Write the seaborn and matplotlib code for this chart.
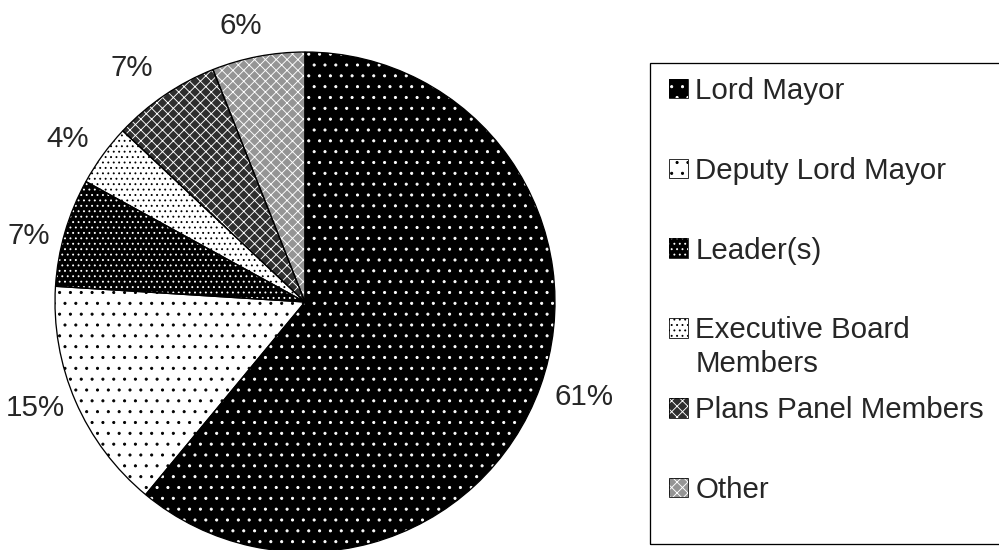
import matplotlib
matplotlib.use("Agg")
import matplotlib.pyplot as plt
import matplotlib.patches as mpatches
import numpy as np
import seaborn as sns

# estilo base
sns.set_style("white")
plt.rcParams['font.family'] = ['Liberation Sans', 'DejaVu Sans']

# dpi maior => hachura mais fina (a celula da hachura tem 1 polegada)
DPI = 130
PT = 72 / DPI  # pontos por pixel
plt.rcParams['hatch.linewidth'] = 0.9 * PT

# dados
categorias = ["Lord Mayor", "Deputy Lord Mayor", "Leader(s)",
              "Executive Board\nMembers", "Plans Panel Members", "Other"]
valores = [61, 15, 7, 4, 7, 6]
rotulos = ["61%", "15%", "7%", "4%", "7%", "6%"]

# cores e hachuras (preto e branco como no original)
cores = ["black", "white", "black", "white", "#2e2e2e", "#959595"]
cor_hachura = ["white", "black", "white", "black", "white", "white"]
hachuras = ["..", "..", "....", "....", "xxxx", "xxxx"]

# ajuste fino da posicao dos rotulos (raio relativo, desvio em graus)
raio_rotulo = [1.18, 1.16, 1.135, 1.15, 1.165, 1.135]
desvio_rotulo = [1.0, -2.0, 2.8, 1.5, 2.2, 2.2]

FONTE = 29.5 * PT

fig = plt.figure(figsize=(999 / DPI, 550 / DPI), dpi=DPI)
W = 999
H = 550
ax = fig.add_axes([55 / W, 1 - 552 / H, 500 / W, 500 / H])

# fatias com hachura
fatias, _ = ax.pie(valores, startangle=90, counterclock=False, colors=cores,
                   wedgeprops=dict(linewidth=0))
for f, h, c in zip(fatias, hachuras, cor_hachura):
    f.set_hatch(h)
    f.set_edgecolor(c)

# contorno preto e rotulos
contorno, textos = ax.pie(valores, startangle=90, counterclock=False,
                          labels=rotulos, labeldistance=1.155,
                          wedgeprops=dict(fill=False, edgecolor="black", linewidth=1.3 * PT),
                          textprops=dict(fontsize=FONTE))
for t, w, r, d in zip(textos, contorno, raio_rotulo, desvio_rotulo):
    ang = np.deg2rad((w.theta1 + w.theta2) / 2 + d)
    t.set_position((r * np.cos(ang), r * np.sin(ang)))
    t.set_horizontalalignment("center")
    t.set_verticalalignment("center")
ax.set_xlim(-1, 1)
ax.set_ylim(-1, 1)

# legenda (moldura desenhada a parte, sai pela direita como no original)
moldura = mpatches.Rectangle((650 / W, 1 - 544 / H), 400 / W, 481 / H,
                             transform=fig.transFigure, fill=False, edgecolor="black",
                             linewidth=1.3 * PT, clip_on=False)
fig.patches.append(moldura)

# no original o texto longo quebra linha sem mudar o espacamento
linhas = [c.split("\n") for c in categorias]
handles = [(f, mpatches.Patch(fill=False, edgecolor="black", linewidth=0.8 * PT)) for f in fatias]
leg = fig.legend(handles, [l[0] for l in linhas], loc="upper left",
                 bbox_to_anchor=(669 / W, 1 - 77 / H),
                 fontsize=FONTE, labelspacing=1.756, handlelength=0.64, handleheight=0.64,
                 handletextpad=0.25, borderpad=0, borderaxespad=0, frameon=False)

fig.canvas.draw()
for t, l in zip(leg.get_texts(), linhas):
    if len(l) > 1:
        bb = t.get_window_extent()
        yc = (bb.y0 + bb.y1) / 2 - 34
        fig.text(bb.x0 / W, yc / H, l[1], fontsize=FONTE, va="center", ha="left")

plt.savefig("out.png", dpi=DPI)
